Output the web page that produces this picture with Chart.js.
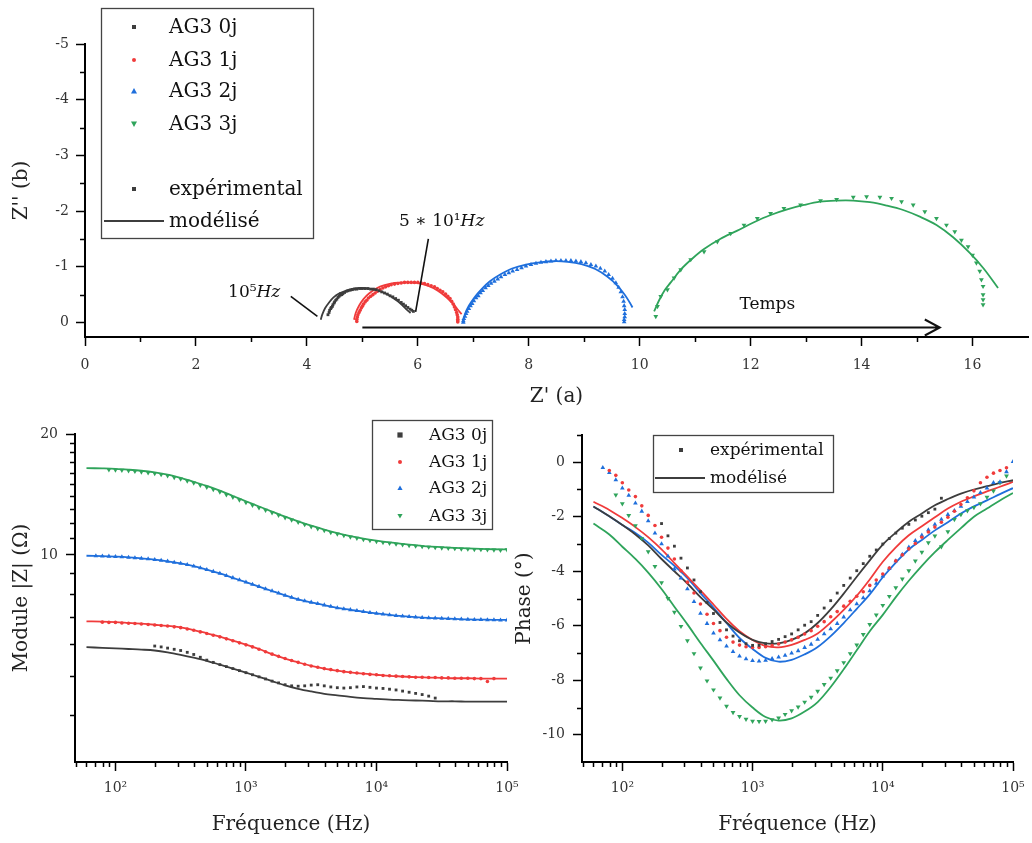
<!DOCTYPE html>
<html>
<head>
<meta charset="utf-8">
<script src="https://cdn.jsdelivr.net/npm/chart.js@4.4.1/dist/chart.umd.min.js"></script>
<style>
  body { margin: 0; background: #fff; }
  #wrap { position: relative; width: 1032px; height: 843px; overflow: hidden; background: #fff; }
  canvas { position: absolute; }
</style>
</head>
<body>
<div id="wrap">
  <canvas id="nyquist" width="1032" height="415" style="left:0;top:0"></canvas>
  <canvas id="module" width="520" height="428" style="left:0;top:415px"></canvas>
  <canvas id="phase" width="532" height="428" style="left:500px;top:415px"></canvas>
</div>
<script>
// eis-figure.js

// Frequencies (Hz) of the measured points and of the fitted curves
const expFreq = [
  70.8, 79.4, 89.1, 100, 112, 126, 141, 158,
  178, 200, 224, 251, 282, 316, 355, 398,
  447, 501, 562, 631, 708, 794, 891, 1000,
  1122, 1259, 1413, 1585, 1778, 1995, 2239, 2512,
  2818, 3162, 3548, 3981, 4467, 5012, 5623, 6310,
  7079, 7943, 8913, 10000, 11220, 12589, 14125, 15849,
  17783, 19953, 22387, 25119, 28184, 31623, 35481, 39811,
  44668, 50119, 56234, 63096, 70795, 79433, 89125, 100000
];
const fitFreq = [
  60, 79.4, 100, 126, 158, 200, 251, 316, 398, 501, 631,
  794, 1000, 1259, 1585, 1995, 2512, 3162, 3981, 5012, 6310, 7943,
  10000, 12589, 15849, 19953, 25119, 31623, 39811, 50119, 63096, 79433, 100000
];

// |Z| measured (ohm)
const magExp0j = [
  null, null, null, null, null, null, null, null,
  null, 5.93, 5.90, 5.86, 5.82, 5.78, 5.72, 5.65,
  5.56, 5.47, 5.40, 5.33, 5.27, 5.21, 5.15, 5.09,
  5.03, 4.97, 4.91, 4.85, 4.80, 4.75, 4.72, 4.71,
  4.72, 4.74, 4.75, 4.72, 4.69, 4.67, 4.66, 4.67,
  4.69, 4.70, 4.68, 4.66, 4.65, 4.63, 4.61, 4.58,
  4.55, 4.52, 4.49, 4.45, 4.40, null, null, null,
  null, null, null, null, null, null, null, null
];
const magExp1j = [
  null, 6.80, 6.79, 6.79, 6.77, 6.76, 6.75, 6.73,
  6.71, 6.69, 6.67, 6.65, 6.62, 6.59, 6.54, 6.49,
  6.43, 6.37, 6.31, 6.25, 6.18, 6.11, 6.04, 5.97,
  5.90, 5.82, 5.74, 5.66, 5.59, 5.52, 5.46, 5.40,
  5.34, 5.29, 5.25, 5.21, 5.18, 5.15, 5.12, 5.10,
  5.08, 5.06, 5.04, 5.03, 5.01, 5.00, 4.99, 4.98,
  4.97, 4.96, 4.96, 4.95, 4.95, 4.94, 4.94, 4.93,
  4.93, 4.93, 4.92, 4.92, 4.84, 4.92, null, null
];
const magExp2j = [
  9.94, 9.93, 9.92, 9.90, 9.88, 9.86, 9.83, 9.80,
  9.77, 9.73, 9.69, 9.64, 9.58, 9.52, 9.45, 9.37,
  9.28, 9.19, 9.09, 8.99, 8.88, 8.77, 8.66, 8.55,
  8.44, 8.34, 8.23, 8.13, 8.03, 7.93, 7.84, 7.75,
  7.68, 7.62, 7.56, 7.50, 7.44, 7.38, 7.34, 7.30,
  7.26, 7.22, 7.18, 7.15, 7.12, 7.09, 7.06, 7.04,
  7.02, 7.00, 6.98, 6.97, 6.96, 6.95, 6.94, 6.93,
  6.92, 6.91, 6.90, 6.90, 6.89, 6.89, 6.88, 6.88
];
const magExp3j = [
  null, null, 16.30, 16.28, 16.25, 16.20, 16.15, 16.10,
  16.02, 15.95, 15.85, 15.75, 15.60, 15.45, 15.28, 15.10,
  14.92, 14.75, 14.55, 14.35, 14.12, 13.92, 13.70, 13.50,
  13.30, 13.10, 12.92, 12.74, 12.56, 12.38, 12.22, 12.06,
  11.90, 11.76, 11.62, 11.50, 11.38, 11.28, 11.18, 11.08,
  11.00, 10.93, 10.86, 10.80, 10.74, 10.69, 10.64, 10.60,
  10.56, 10.52, 10.49, 10.46, 10.43, 10.41, 10.39, 10.37,
  10.35, 10.34, 10.32, 10.31, 10.30, 10.29, 10.28, 10.30
];

// |Z| model
const magFit0j = [
  5.89, 5.87, 5.85, 5.83, 5.81, 5.78, 5.72, 5.64, 5.55, 5.45, 5.33,
  5.21, 5.09, 4.97, 4.85, 4.73, 4.64, 4.57, 4.51, 4.47, 4.43, 4.40,
  4.38, 4.36, 4.35, 4.34, 4.33, 4.32, 4.32, 4.31, 4.31, 4.31, 4.31
];
const magFit1j = [
  6.83, 6.82, 6.80, 6.77, 6.74, 6.70, 6.66, 6.60, 6.50, 6.38, 6.26,
  6.12, 5.98, 5.83, 5.66, 5.52, 5.40, 5.29, 5.21, 5.15, 5.10, 5.06,
  5.03, 5.00, 4.98, 4.96, 4.95, 4.94, 4.93, 4.93, 4.92, 4.92, 4.92
];
const magFit2j = [
  9.95, 9.93, 9.90, 9.86, 9.80, 9.73, 9.64, 9.52, 9.37, 9.19, 8.99,
  8.77, 8.55, 8.34, 8.13, 7.93, 7.75, 7.62, 7.50, 7.38, 7.30, 7.22,
  7.15, 7.09, 7.04, 7.00, 6.97, 6.95, 6.93, 6.91, 6.90, 6.89, 6.89
];
const magFit3j = [
  16.45, 16.42, 16.38, 16.30, 16.20, 16.05, 15.85, 15.55, 15.20, 14.85, 14.45,
  14.02, 13.60, 13.20, 12.82, 12.45, 12.12, 11.82, 11.56, 11.33, 11.14, 10.98,
  10.85, 10.74, 10.65, 10.57, 10.50, 10.45, 10.41, 10.38, 10.35, 10.33, 10.32
];

// Phase measured (deg)
const phExp0j = [
  null, null, null, null, null, null, null, null,
  null, -2.25, -2.70, -3.08, -3.52, -3.88, -4.32, -4.75,
  -5.15, -5.55, -5.88, -6.15, -6.38, -6.55, -6.66, -6.72,
  -6.72, -6.66, -6.58, -6.50, -6.40, -6.30, -6.15, -5.98,
  -5.85, -5.62, -5.35, -5.08, -4.80, -4.52, -4.25, -3.98,
  -3.72, -3.45, -3.22, -3.00, -2.80, -2.60, -2.42, -2.28,
  -2.12, -1.98, -1.85, -1.72, -1.32, null, null, null,
  null, null, null, null, null, null, null, null
];
const phExp1j = [
  null, -0.30, -0.48, -0.75, -1.02, -1.26, -1.60, -1.95,
  -2.32, -2.75, -3.15, -3.55, -3.98, -4.40, -4.80, -5.20,
  -5.58, -5.92, -6.18, -6.42, -6.60, -6.71, -6.77, -6.80,
  -6.80, -6.77, -6.73, -6.67, -6.60, -6.52, -6.42, -6.30,
  -6.18, -6.02, -5.85, -5.67, -5.48, -5.28, -5.10, -4.92,
  -4.75, -4.52, -4.32, -4.10, -3.88, -3.62, -3.40, -3.18,
  -2.98, -2.75, -2.56, -2.38, -2.20, -2.02, -1.80, -1.55,
  -1.30, -1.05, -0.75, -0.55, -0.40, -0.30, -0.20, null
];
const phExp2j = [
  -0.20, -0.38, -0.65, -0.95, -1.22, -1.50, -1.80, -2.15,
  -2.60, -3.00, -3.45, -3.92, -4.25, -4.65, -5.12, -5.55,
  -5.92, -6.27, -6.52, -6.75, -6.95, -7.12, -7.22, -7.28,
  -7.30, -7.27, -7.21, -7.15, -7.09, -7.01, -6.92, -6.80,
  -6.68, -6.50, -6.30, -6.12, -5.92, -5.68, -5.42, -5.20,
  -4.98, -4.72, -4.45, -4.18, -3.90, -3.62, -3.38, -3.12,
  -2.88, -2.68, -2.48, -2.28, -2.10, -1.92, -1.78, -1.62,
  -1.45, -1.28, -1.12, -0.95, -0.75, -0.72, -0.35, 0.02
];
const phExp3j = [
  null, null, -1.20, -1.52, -1.95, -2.33, -2.80, -3.28,
  -3.82, -4.42, -5.00, -5.50, -6.02, -6.55, -7.02, -7.55,
  -8.02, -8.35, -8.65, -8.95, -9.18, -9.33, -9.43, -9.50,
  -9.51, -9.50, -9.45, -9.38, -9.25, -9.12, -8.98, -8.80,
  -8.62, -8.40, -8.15, -7.92, -7.65, -7.35, -7.02, -6.70,
  -6.32, -5.95, -5.60, -5.25, -4.92, -4.60, -4.28, -3.98,
  -3.62, -3.30, -2.95, -2.70, -3.10, -2.55, -2.10, -1.92,
  -1.78, -1.66, -1.52, -1.28, -1.05, -0.75, -0.50, null
];

// Phase model
const phFit0j = [
  -1.62, -1.98, -2.30, -2.65, -3.05, -3.55, -4.00, -4.45, -4.95, -5.40, -5.88,
  -6.25, -6.52, -6.65, -6.65, -6.52, -6.28, -5.90, -5.40, -4.82, -4.20, -3.60,
  -3.02, -2.58, -2.18, -1.88, -1.58, -1.35, -1.15, -1.00, -0.88, -0.76, -0.66
];
const phFit1j = [
  -1.45, -1.75, -2.05, -2.38, -2.75, -3.20, -3.70, -4.20, -4.70, -5.22, -5.75,
  -6.20, -6.52, -6.74, -6.79, -6.70, -6.52, -6.28, -5.88, -5.42, -4.90, -4.30,
  -3.65, -3.12, -2.68, -2.35, -2.02, -1.70, -1.45, -1.25, -1.07, -0.90, -0.72
];
const phFit2j = [
  -1.62, -1.98, -2.30, -2.60, -2.95, -3.40, -3.80, -4.25, -4.80, -5.33, -5.90,
  -6.45, -6.85, -7.18, -7.32, -7.25, -7.05, -6.78, -6.38, -5.90, -5.38, -4.85,
  -4.22, -3.68, -3.20, -2.85, -2.50, -2.20, -1.88, -1.62, -1.40, -1.17, -0.95
];
const phFit3j = [
  -2.25, -2.65, -3.10, -3.55, -4.05, -4.65, -5.30, -5.95, -6.63, -7.28, -7.95,
  -8.55, -9.00, -9.35, -9.48, -9.40, -9.15, -8.80, -8.25, -7.60, -6.90, -6.20,
  -5.60, -4.95, -4.35, -3.80, -3.30, -2.85, -2.42, -2.00, -1.70, -1.40, -1.13
];

// Nyquist: Z' (a) and Z'' (b), measured
const nyqRe0j = [4.38, 4.40, 4.41, 4.43, 4.44, 4.46, 4.47, 4.49, 4.50, 4.52, 4.54, 4.56, 4.58, 4.60, 4.61, 4.63, 4.65, 4.68, 4.71, 4.74, 4.78, 4.82, 4.86, 4.90, 4.95, 5.00, 5.05, 5.10, 5.15, 5.20, 5.25, 5.30, 5.35, 5.40, 5.45, 5.50, 5.55, 5.60, 5.65, 5.70, 5.74, 5.78, 5.82, 5.86, 5.89, 5.92];
const nyqIm0j = [-0.14, -0.18, -0.22, -0.25, -0.27, -0.29, -0.32, -0.35, -0.37, -0.40, -0.42, -0.45, -0.47, -0.49, -0.52, -0.50, -0.52, -0.54, -0.56, -0.57, -0.58, -0.59, -0.60, -0.60, -0.61, -0.61, -0.61, -0.61, -0.60, -0.60, -0.59, -0.57, -0.55, -0.53, -0.51, -0.48, -0.46, -0.43, -0.40, -0.36, -0.33, -0.30, -0.27, -0.24, -0.22, -0.20];
const nyqRe1j = [4.90, 4.90, 4.91, 4.92, 4.94, 4.96, 4.98, 5.00, 5.02, 5.05, 5.08, 5.11, 5.15, 5.19, 5.23, 5.27, 5.32, 5.37, 5.42, 5.47, 5.52, 5.58, 5.64, 5.70, 5.76, 5.82, 5.88, 5.94, 6.00, 6.06, 6.12, 6.18, 6.24, 6.30, 6.35, 6.40, 6.45, 6.50, 6.54, 6.58, 6.61, 6.64, 6.66, 6.68, 6.70, 6.71, 6.72, 6.72, 6.72, 6.72];
const nyqIm1j = [-0.02, -0.06, -0.10, -0.14, -0.18, -0.22, -0.26, -0.29, -0.33, -0.37, -0.40, -0.44, -0.47, -0.50, -0.53, -0.56, -0.59, -0.62, -0.64, -0.66, -0.68, -0.69, -0.70, -0.71, -0.72, -0.72, -0.72, -0.72, -0.72, -0.71, -0.70, -0.68, -0.66, -0.64, -0.61, -0.58, -0.55, -0.51, -0.47, -0.43, -0.38, -0.33, -0.28, -0.23, -0.18, -0.14, -0.10, -0.06, -0.03, -0.01];
const nyqRe2j = [6.82, 6.82, 6.83, 6.85, 6.87, 6.89, 6.92, 6.95, 6.98, 7.01, 7.05, 7.09, 7.13, 7.17, 7.22, 7.27, 7.32, 7.38, 7.44, 7.50, 7.57, 7.64, 7.71, 7.79, 7.87, 7.95, 8.04, 8.13, 8.22, 8.31, 8.40, 8.49, 8.58, 8.67, 8.76, 8.85, 8.94, 9.03, 9.12, 9.21, 9.29, 9.37, 9.44, 9.51, 9.57, 9.62, 9.66, 9.69, 9.71, 9.72, 9.73, 9.73, 9.73, 9.72, 9.72];
const nyqIm2j = [0.00, -0.03, -0.07, -0.11, -0.16, -0.20, -0.25, -0.30, -0.34, -0.39, -0.44, -0.48, -0.53, -0.57, -0.62, -0.66, -0.70, -0.74, -0.78, -0.82, -0.86, -0.89, -0.92, -0.95, -0.98, -1.01, -1.04, -1.06, -1.08, -1.09, -1.10, -1.11, -1.11, -1.11, -1.11, -1.10, -1.09, -1.07, -1.04, -1.01, -0.97, -0.92, -0.86, -0.79, -0.71, -0.63, -0.55, -0.46, -0.38, -0.30, -0.23, -0.16, -0.10, -0.05, -0.01];
const nyqRe3j = [10.29, 10.32, 10.38, 10.50, 10.62, 10.74, 10.92, 11.16, 11.40, 11.64, 11.88, 12.12, 12.36, 12.60, 12.90, 13.26, 13.55, 13.85, 14.09, 14.33, 14.54, 14.72, 14.93, 15.14, 15.35, 15.53, 15.68, 15.80, 15.92, 16.00, 16.07, 16.13, 16.16, 16.19, 16.19, 16.19, 16.19];
const nyqIm3j = [-0.11, -0.29, -0.47, -0.59, -0.80, -0.95, -1.13, -1.27, -1.45, -1.60, -1.75, -1.87, -1.96, -2.05, -2.11, -2.19, -2.21, -2.25, -2.26, -2.25, -2.23, -2.17, -2.11, -1.99, -1.87, -1.75, -1.63, -1.48, -1.36, -1.21, -1.07, -0.92, -0.77, -0.65, -0.50, -0.41, -0.32];

// Nyquist model
const nyqFitRe0j = [4.25, 4.28, 4.33, 4.40, 4.48, 4.58, 4.70, 4.84, 4.98, 5.12, 5.26, 5.40, 5.53, 5.64, 5.73, 5.80, 5.87];
const nyqFitIm0j = [-0.05, -0.15, -0.26, -0.36, -0.45, -0.52, -0.57, -0.61, -0.62, -0.61, -0.58, -0.53, -0.46, -0.38, -0.30, -0.23, -0.17];
const nyqFitRe1j = [4.85, 4.88, 4.94, 5.02, 5.12, 5.25, 5.40, 5.58, 5.78, 5.98, 6.18, 6.36, 6.52, 6.64, 6.73, 6.79];
const nyqFitIm1j = [-0.05, -0.17, -0.30, -0.42, -0.52, -0.61, -0.67, -0.71, -0.72, -0.71, -0.66, -0.57, -0.45, -0.33, -0.22, -0.15];
const nyqFitRe2j = [6.82, 6.85, 6.92, 7.02, 7.15, 7.30, 7.50, 7.70, 7.95, 8.20, 8.45, 8.70, 8.95, 9.20, 9.42, 9.60, 9.73, 9.82, 9.87];
const nyqFitIm2j = [-0.02, -0.15, -0.30, -0.45, -0.60, -0.74, -0.87, -0.97, -1.04, -1.08, -1.10, -1.09, -1.05, -0.96, -0.82, -0.66, -0.50, -0.36, -0.27];
const nyqFitRe3j = [10.26, 10.35, 10.45, 10.56, 10.74, 10.95, 11.16, 11.45, 11.76, 12.06, 12.36, 12.66, 12.96, 13.25, 13.55, 13.85, 14.15, 14.45, 14.75, 15.05, 15.35, 15.65, 15.95, 16.20, 16.46];
const nyqFitIm3j = [-0.20, -0.40, -0.58, -0.72, -0.95, -1.15, -1.32, -1.50, -1.65, -1.80, -1.93, -2.03, -2.11, -2.17, -2.19, -2.19, -2.16, -2.10, -2.02, -1.90, -1.75, -1.53, -1.25, -0.97, -0.62];

// Tick values
const nyqXTicks = [0, 2, 4, 6, 8, 10, 12, 14, 16];
const nyqXMinor = [1, 3, 5, 7, 9, 11, 13, 15];
const nyqYTicks = [-5, -4, -3, -2, -1, 0];
const nyqYMinor = [-4.5, -3.5, -2.5, -1.5, -0.5];
const freqTicks = [100, 1000, 10000, 100000];
const freqMinor = [50, 60, 70, 80, 90, 200, 300, 400, 500, 600, 700, 800, 900,
  2000, 3000, 4000, 5000, 6000, 7000, 8000, 9000,
  20000, 30000, 40000, 50000, 60000, 70000, 80000, 90000];
const modTicks = [10, 20];
const modMinor = [4, 5, 6, 7, 8, 9, 11, 12, 13, 14, 15, 16, 17, 18, 19];
const phTicks = [-10, -8, -6, -4, -2, 0];
const phMinor = [-9, -7, -5, -3, -1, 1];

// Annotation anchors on the Nyquist plot, in data units
const noteHighF = { text: [3.05, -0.53], from: [3.71, -0.47], to: [4.19, -0.11] };
const noteLowF = { text: [6.43, -1.81], from: [6.19, -1.5], to: [5.96, -0.19] };
const timeArrow = { from: [5.0, 0.08], to: [15.41, 0.08], label: [12.3, -0.32] };

const serif = "'DejaVu Serif', serif";
Chart.defaults.font.family = serif;
Chart.defaults.color = "#333";

const series = [
  { name: "AG3 0j", color: "#3d3d3d", style: "rect", r: 2, rot: 0, mark: "rect" },
  { name: "AG3 1j", color: "#f03b3b", style: "circle", r: 1.8, rot: 0, mark: "circle" },
  { name: "AG3 2j", color: "#1f6fdc", style: "triangle", r: 2.7, rot: 0, mark: "up" },
  { name: "AG3 3j", color: "#2fa45b", style: "triangle", r: 2.8, rot: 180, mark: "down" },
];

function pairs(xs, ys) {
  return xs.map((x, i) => ({ x: x, y: ys[i] })).filter((p) => p.y !== null);
}

function expSet(s, data) {
  return {
    data: data,
    showLine: false,
    pointStyle: s.style,
    pointRadius: s.r,
    pointRotation: s.rot,
    pointBackgroundColor: s.color,
    pointBorderColor: s.color,
    pointBorderWidth: 0,
    borderColor: s.color,
  };
}

function fitSet(s, data) {
  return {
    data: data,
    borderColor: s.color,
    borderWidth: 1.8,
    pointRadius: 0,
    tension: 0.35,
    fill: false,
  };
}

function drawMark(ctx, style, x, y, r, color) {
  ctx.fillStyle = color;
  ctx.beginPath();
  if (style === "rect") ctx.rect(x - r, y - r, 2 * r, 2 * r);
  else if (style === "circle") ctx.arc(x, y, r, 0, Math.PI * 2);
  else if (style === "up") {
    ctx.moveTo(x, y - r);
    ctx.lineTo(x + r, y + r * 0.8);
    ctx.lineTo(x - r, y + r * 0.8);
    ctx.closePath();
  } else {
    ctx.moveTo(x, y + r);
    ctx.lineTo(x + r, y - r * 0.8);
    ctx.lineTo(x - r, y - r * 0.8);
    ctx.closePath();
  }
  ctx.fill();
}

// short ticks between labelled ones
const minorTicks = {
  id: "minorTicks",
  afterDraw(chart, args, o) {
    const ctx = chart.ctx;
    const sx = chart.scales.x;
    const sy = chart.scales.y;
    ctx.save();
    ctx.strokeStyle = "#000";
    ctx.lineWidth = 1.5;
    ctx.beginPath();
    (o.x || []).forEach((v) => {
      const p = Math.round(sx.getPixelForValue(v)) + 0.5;
      ctx.moveTo(p, sx.top);
      ctx.lineTo(p, sx.top + o.len);
    });
    (o.y || []).forEach((v) => {
      const p = Math.round(sy.getPixelForValue(v)) + 0.5;
      ctx.moveTo(sy.right - o.len, p);
      ctx.lineTo(sy.right, p);
    });
    ctx.stroke();
    ctx.restore();
  },
};

// boxed legend placed like the original
const boxLegend = {
  id: "boxLegend",
  afterDraw(chart, args, o) {
    if (!o || !o.rows) return;
    const ctx = chart.ctx;
    ctx.save();
    ctx.strokeStyle = "#444";
    ctx.lineWidth = 1.3;
    ctx.strokeRect(o.box[0] + 0.5, o.box[1] + 0.5, o.box[2], o.box[3]);
    ctx.font = o.size + "px " + serif;
    ctx.textBaseline = "middle";
    ctx.textAlign = "left";
    o.rows.forEach((r) => {
      if (r.mark === "line") {
        ctx.strokeStyle = r.color;
        ctx.lineWidth = 2;
        ctx.beginPath();
        ctx.moveTo(o.line[0], r.y);
        ctx.lineTo(o.line[1], r.y);
        ctx.stroke();
      } else {
        drawMark(ctx, r.mark, o.markX, r.y, r.r, r.color);
      }
      ctx.fillStyle = "#111";
      ctx.fillText(r.text, o.textX, r.y + 1);
    });
    ctx.restore();
  },
};

function mathText(ctx, parts, cx, cy, size) {
  const widths = parts.map((p) => {
    ctx.font = (p[1] ? "italic " : "") + size + "px " + serif;
    return ctx.measureText(p[0]).width;
  });
  let x0 = cx - widths.reduce((a, b) => a + b, 0) / 2;
  ctx.textBaseline = "middle";
  ctx.textAlign = "left";
  parts.forEach((p, i) => {
    ctx.font = (p[1] ? "italic " : "") + size + "px " + serif;
    ctx.fillText(p[0], x0, cy);
    x0 += widths[i];
  });
}

// frequency labels, leader lines and the "Temps" arrow
const nyqNotes = {
  id: "nyqNotes",
  afterDatasetsDraw(chart) {
    const ctx = chart.ctx;
    const px = (v) => chart.scales.x.getPixelForValue(v);
    const py = (v) => chart.scales.y.getPixelForValue(v);
    ctx.save();
    ctx.strokeStyle = "#111";
    ctx.fillStyle = "#111";
    ctx.lineWidth = 1.6;
    [noteHighF, noteLowF].forEach((n) => {
      ctx.beginPath();
      ctx.moveTo(px(n.from[0]), py(n.from[1]));
      ctx.lineTo(px(n.to[0]), py(n.to[1]));
      ctx.stroke();
    });
    mathText(ctx, [["10⁵", false], ["Hz", true]], px(noteHighF.text[0]), py(noteHighF.text[1]), 17);
    mathText(ctx, [["5 ∗ 10¹", false], ["Hz", true]], px(noteLowF.text[0]), py(noteLowF.text[1]), 17);

    const x1 = px(timeArrow.from[0]);
    const x2 = px(timeArrow.to[0]);
    const ya = Math.round(py(timeArrow.from[1])) + 0.5;
    ctx.lineWidth = 2;
    ctx.beginPath();
    ctx.moveTo(x1, ya);
    ctx.lineTo(x2, ya);
    ctx.moveTo(x2 - 15, ya - 8);
    ctx.lineTo(x2, ya);
    ctx.lineTo(x2 - 15, ya + 8);
    ctx.stroke();
    mathText(ctx, [["Temps", false]], px(timeArrow.label[0]), py(timeArrow.label[1]), 17);
    ctx.restore();
  },
};

function fixedAxis(size, vertical) {
  return (scale) => {
    if (vertical) {
      scale.width = size;
      scale.paddingTop = 0;
      scale.paddingBottom = 0;
    } else {
      scale.height = size;
      scale.paddingLeft = 0;
      scale.paddingRight = 0;
    }
  };
}

function axis(opts) {
  return Object.assign(
    {
      border: { display: true, color: "#000", width: 2 },
      grid: {
        display: true,
        drawOnChartArea: false,
        drawTicks: true,
        tickLength: 9,
        tickWidth: 1.5,
        tickColor: "#000",
      },
      title: { display: true, color: "#222", font: { size: 20 } },
    },
    opts,
  );
}

const superscript = { 100: "10²", 1000: "10³", 10000: "10⁴", 100000: "10⁵" };

function freqAxis(h) {
  return axis({
    type: "logarithmic",
    min: 49,
    max: 100000,
    afterBuildTicks: (a) => (a.ticks = freqTicks.map((v) => ({ value: v }))),
    afterFit: fixedAxis(h, false),
    ticks: { font: { size: 14 }, color: "#333", padding: 9, maxRotation: 0, autoSkip: false,
      callback: (v) => superscript[v] || "" },
    title: { display: true, text: "Fréquence (Hz)", color: "#222", font: { size: 20 },
      padding: { top: 0, bottom: 6 } },
  });
}

const baseOptions = {
  responsive: false,
  animation: false,
  events: [],
};

// Section 1: Nyquist
new Chart(document.getElementById("nyquist"), {
  type: "line",
  data: {
    datasets: [
      expSet(series[0], pairs(nyqRe0j, nyqIm0j)),
      expSet(series[1], pairs(nyqRe1j, nyqIm1j)),
      expSet(series[2], pairs(nyqRe2j, nyqIm2j)),
      expSet(series[3], pairs(nyqRe3j, nyqIm3j)),
      fitSet(series[0], pairs(nyqFitRe0j, nyqFitIm0j)),
      fitSet(series[1], pairs(nyqFitRe1j, nyqFitIm1j)),
      fitSet(series[2], pairs(nyqFitRe2j, nyqFitIm2j)),
      fitSet(series[3], pairs(nyqFitRe3j, nyqFitIm3j)),
    ],
  },
  options: Object.assign({}, baseOptions, {
    layout: { padding: { left: 0, top: 44, right: 0, bottom: 0 } },
    scales: {
      x: axis({
        type: "linear",
        min: 0,
        max: 17,
        afterBuildTicks: (a) => (a.ticks = nyqXTicks.map((v) => ({ value: v }))),
        afterFit: fixedAxis(78, false),
        ticks: { font: { size: 14 }, color: "#333", padding: 11, maxRotation: 0, autoSkip: false },
        title: { display: true, text: "Z' (a)", color: "#222", font: { size: 20 },
          padding: { top: 0, bottom: 6 } },
      }),
      y: axis({
        type: "linear",
        reverse: true,
        min: -5,
        max: 0.26,
        afterBuildTicks: (a) => (a.ticks = nyqYTicks.map((v) => ({ value: v }))),
        afterFit: fixedAxis(85, true),
        ticks: { font: { size: 14 }, color: "#333", padding: 7, autoSkip: false },
        title: { display: true, text: "Z'' (b)", color: "#222", font: { size: 20 },
          padding: { top: 10, bottom: 0 } },
      }),
    },
    plugins: {
      legend: { display: false },
      tooltip: { enabled: false },
      minorTicks: { x: nyqXMinor, y: nyqYMinor, len: 5 },
      boxLegend: {
        box: [101, 8, 212, 230],
        size: 20,
        markX: 134,
        textX: 169,
        line: [104, 164],
        rows: [
          { y: 27, mark: "rect", r: 2, color: series[0].color, text: series[0].name },
          { y: 60, mark: "circle", r: 2, color: series[1].color, text: series[1].name },
          { y: 91, mark: "up", r: 3, color: series[2].color, text: series[2].name },
          { y: 124, mark: "down", r: 3, color: series[3].color, text: series[3].name },
          { y: 189, mark: "rect", r: 2, color: series[0].color, text: "expérimental" },
          { y: 221, mark: "line", color: "#3d3d3d", text: "modélisé" },
        ],
      },
    },
  }),
  plugins: [minorTicks, boxLegend, nyqNotes],
});

// Section 2: modulus vs frequency
new Chart(document.getElementById("module"), {
  type: "line",
  data: {
    datasets: [
      expSet(series[0], pairs(expFreq, magExp0j)),
      expSet(series[1], pairs(expFreq, magExp1j)),
      expSet(series[2], pairs(expFreq, magExp2j)),
      expSet(series[3], pairs(expFreq, magExp3j)),
      fitSet(series[0], pairs(fitFreq, magFit0j)),
      fitSet(series[1], pairs(fitFreq, magFit1j)),
      fitSet(series[2], pairs(fitFreq, magFit2j)),
      fitSet(series[3], pairs(fitFreq, magFit3j)),
    ],
  },
  options: Object.assign({}, baseOptions, {
    layout: { padding: { left: 0, top: 19, right: 13, bottom: 0 } },
    scales: {
      x: freqAxis(81),
      y: axis({
        type: "logarithmic",
        min: 3.05,
        max: 20,
        afterBuildTicks: (a) => (a.ticks = modTicks.map((v) => ({ value: v }))),
        afterFit: fixedAxis(75, true),
        ticks: { font: { size: 14 }, color: "#333", padding: 8, autoSkip: false,
          callback: (v) => String(v) },
        title: { display: true, text: "Module |Z| (Ω)", color: "#222", font: { size: 20 },
          padding: { top: 10, bottom: 0 } },
      }),
    },
    plugins: {
      legend: { display: false },
      tooltip: { enabled: false },
      minorTicks: { x: freqMinor, y: modMinor, len: 5 },
      boxLegend: {
        box: [372, 5, 120, 109],
        size: 17,
        markX: 400,
        textX: 429,
        line: [0, 0],
        rows: series.map((s, i) => ({ y: [20, 47, 73, 101][i], mark: s.mark, r: s.mark === "circle" ? 2 : 2.6,
          color: s.color, text: s.name })),
      },
    },
  }),
  plugins: [minorTicks, boxLegend],
});

// Section 3: phase vs frequency
new Chart(document.getElementById("phase"), {
  type: "line",
  data: {
    datasets: [
      expSet(series[0], pairs(expFreq, phExp0j)),
      expSet(series[1], pairs(expFreq, phExp1j)),
      expSet(series[2], pairs(expFreq, phExp2j)),
      expSet(series[3], pairs(expFreq, phExp3j)),
      fitSet(series[0], pairs(fitFreq, phFit0j)),
      fitSet(series[1], pairs(fitFreq, phFit1j)),
      fitSet(series[2], pairs(fitFreq, phFit2j)),
      fitSet(series[3], pairs(fitFreq, phFit3j)),
    ],
  },
  options: Object.assign({}, baseOptions, {
    layout: { padding: { left: 0, top: 20, right: 19, bottom: 0 } },
    scales: {
      x: freqAxis(81),
      y: axis({
        type: "linear",
        min: -11,
        max: 1,
        afterBuildTicks: (a) => (a.ticks = phTicks.map((v) => ({ value: v }))),
        afterFit: fixedAxis(82, true),
        ticks: { font: { size: 14 }, color: "#333", padding: 8, autoSkip: false },
        title: { display: true, text: "Phase (°)", color: "#222", font: { size: 20 },
          padding: { top: 13, bottom: 0 } },
      }),
    },
    plugins: {
      legend: { display: false },
      tooltip: { enabled: false },
      minorTicks: { x: freqMinor, y: phMinor, len: 5 },
      boxLegend: {
        box: [153, 20, 180, 57],
        size: 17,
        markX: 181,
        textX: 210,
        line: [155, 205],
        rows: [
          { y: 35, mark: "rect", r: 2, color: "#3d3d3d", text: "expérimental" },
          { y: 63, mark: "line", color: "#3d3d3d", text: "modélisé" },
        ],
      },
    },
  }),
  plugins: [minorTicks, boxLegend],
});
</script>
</body>
</html>
